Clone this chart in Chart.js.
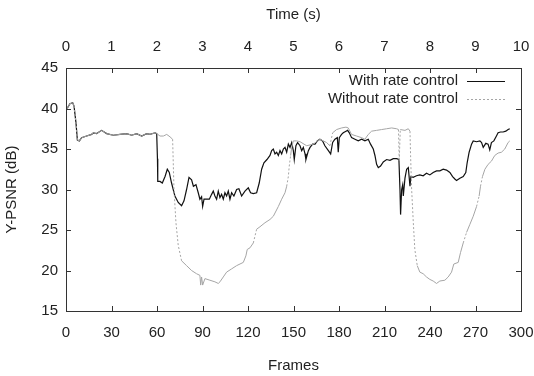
<!DOCTYPE html>
<html>
<head>
<meta charset="utf-8">
<script src="https://cdn.jsdelivr.net/npm/chart.js@4.4.0/dist/chart.umd.min.js"></script>
<style>
  html, body { margin: 0; padding: 0; background: #fff; }
  canvas { display: block; }
</style>
</head>
<body>
<canvas id="psnrChart" width="534" height="376"></canvas>
<script>
// Y-PSNR per frame
const withFrames = [0, 1, 2.6, 4.4, 5.3, 6.6, 7.5, 8.8, 10.3, 13.6, 16.9, 18, 20.2, 23.5, 26.8, 31.2, 35.6, 40, 43.3, 46.6, 49.9, 53.2, 55.4, 58.7, 59.8,
  60.3, 60.5, 62, 63.5, 65.3, 66.8, 68.1, 69.6, 71.8, 74, 76.2, 77.8, 79.5, 81.1, 82.8, 84, 85.7, 87.2, 88.3, 89.4, 90.1, 91, 92.7, 94.5,
  96, 97.1, 98.2, 99.3, 100.4, 101.5, 102.6, 103.7, 104.8, 105.9, 107, 108.1, 109.2, 110.7, 112.5, 114, 115.8, 118, 120.2, 121.7, 123.5,
  125.7, 127.4, 129, 130.5, 132.5, 134.5, 135.6, 136.7, 137.8, 138.9, 140, 141.1, 142.2, 143.3, 144.4, 145.5, 146.6, 147.7, 148.8, 149.9,
  150.5, 151.6, 152.7, 154.3, 155.4, 156.5, 157.6, 158.2, 159.8, 160.9, 162.6, 164.2, 165.7, 167.4, 169.2, 170.7, 173, 174.5, 175.8, 177.3,
  178.9, 179.5, 180.2, 181.7, 182.8, 184.6, 185.7, 186.8, 188.3, 190.5, 192.7, 194.9, 197.1, 199.3, 200.8, 202.6, 203.7, 204.8, 205.9,
  207.4, 209.2, 211.4, 213.6, 215.8, 218, 219.5, 220.2, 220.6, 221.3, 222, 222.4, 223.5, 224.6, 225.7, 226.8, 227.4, 228.9, 231.1, 233.3,
  235.5, 237.7, 239.9, 242.1, 244.3, 246.5, 248.7, 250.9, 253.1, 254.9, 256.4, 257.5, 259.7, 261.9, 263.6, 264.5, 265.8, 267.4, 268.5,
  270.7, 272.9, 274, 275.1, 276.8, 278.3, 279.4, 280.5, 282.1, 283.8, 284.9, 286.5, 288.2, 290, 291.5, 292.6];
const withPsnr = [40.0, 40.1, 40.6, 40.7, 40.3, 38.2, 36.1, 36.0, 36.4, 36.6, 36.8, 37.0, 36.9, 37.3, 36.9, 36.7, 36.8, 36.9, 36.7, 36.9, 36.6, 36.9, 36.8, 37.0, 36.9,
  33.8, 31.0, 31.0, 30.8, 31.6, 32.5, 32.1, 30.8, 29.2, 28.4, 28.0, 28.6, 30.0, 31.5, 31.2, 30.4, 30.6, 29.6, 28.8, 29.1, 27.9, 28.8, 28.8, 28.8,
  29.4, 29.8, 29.2, 28.8, 29.8, 29.0, 29.4, 28.8, 29.6, 29.2, 29.8, 28.8, 29.6, 29.2, 30.0, 30.1, 29.2, 29.8, 30.2, 29.6, 29.5,
  29.6, 30.8, 32.5, 33.3, 33.7, 34.2, 34.8, 35.0, 34.4, 34.6, 34.2, 34.8, 34.4, 35.0, 35.2, 34.6, 35.6, 35.2, 35.8, 34.8,
  33.7, 35.4, 35.8, 35.4, 34.8, 35.2, 34.4, 33.7, 34.8, 35.2, 35.6, 35.6, 36.0, 36.2, 36.0, 35.4, 34.8, 34.4, 35.8, 36.2,
  36.4, 34.6, 36.4, 36.8, 37.0, 37.2, 37.3, 37.0, 36.4, 36.2, 36.0, 36.2, 36.0, 36.2, 35.6, 35.0, 34.2, 33.1, 32.7,
  32.9, 33.4, 33.7, 33.6, 33.8, 33.8, 33.7, 30.0, 26.9, 30.0, 30.6, 29.2, 31.4, 32.5, 32.7, 30.4, 31.6, 31.5, 31.7, 31.8,
  31.7, 32.0, 31.8, 32.1, 32.3, 32.3, 32.5, 32.4, 32.1, 31.6, 31.3, 31.1, 31.4, 31.6, 32.1, 33.3, 34.6, 35.6, 36.0,
  35.9, 36.0, 35.8, 35.2, 35.7, 35.6, 34.9, 35.8, 36.0, 36.6, 37.0, 37.1, 37.1, 37.2, 37.4, 37.5];

const withoutFrames = [0, 1, 2.6, 4.4, 5.3, 6.6, 7.5, 8.8, 10.3, 13.6, 16.9, 18, 20.2, 23.5, 26.8, 31.2, 35.6, 40, 43.3, 46.6, 49.9, 53.2, 55.4, 58.7, 59.8,
  62, 64.2, 66.4, 68.6, 70.3, 71.2, 72.5, 74, 76.2, 79.5, 82.8, 86.1, 88.3, 88.8, 89.4, 90.1, 91.6, 94.9, 98.2, 100.4, 101.5, 103.7,
  105.9, 109.2, 112.5, 116.9, 118.6, 119.5, 121.3, 123.5, 125.7, 127.9, 131.2, 134.5, 136.7, 140, 142.2, 144.4, 145.5, 146.6, 147.2,
  148.1, 148.8, 149.9, 152.1, 154.3, 158.7, 163, 167.4, 171.8, 174, 175.8, 178.4, 181.7, 184.6, 186.1, 188.3, 191.6, 194.9, 197.1,
  199.3, 201.5, 204.8, 208.1, 211.4, 214.7, 218, 219.2, 219.7, 220.4, 223.5, 225.7, 226.8, 227.2, 227.9, 229, 230, 231.6, 233.3,
  235.5, 237.7, 239.9, 242.1, 244.3, 246.5, 249.8, 252, 254.2, 255.7, 258.6, 260.1, 261.9, 264.1, 266.3, 268.5, 270.7, 272.4, 273.3,
  274.6, 276.2, 278.3, 280.5, 282.7, 284.9, 287.1, 289.3, 291.5, 292.6];
const withoutPsnr = [40.0, 40.1, 40.6, 40.7, 40.3, 38.2, 36.1, 36.0, 36.4, 36.6, 36.8, 37.0, 36.9, 37.3, 36.9, 36.7, 36.8, 36.9, 36.7, 36.9, 36.6, 36.9, 36.8, 37.0, 36.9,
  36.6, 36.6, 36.8, 36.5, 36.2, 30.0, 25.9, 23.1, 21.2, 20.6, 20.0, 19.6, 19.4, 18.2, 19.2, 18.2, 19.0, 18.8, 18.6, 18.4, 18.6, 19.2,
  19.8, 20.2, 20.6, 21.0, 21.8, 22.6, 22.8, 23.4, 25.1, 25.4, 25.9, 26.3, 26.7, 27.9, 28.8, 29.6, 30.4, 31.6, 32.9,
  34.2, 35.2, 36.0, 36.0, 35.9, 35.4, 35.6, 36.2, 35.8, 35.4, 37.0, 37.4, 37.6, 37.7, 37.6, 36.8, 36.6, 36.4, 36.2,
  36.8, 37.2, 37.3, 37.4, 37.5, 37.6, 37.5, 37.4, 33.5, 37.4, 37.3, 37.5, 37.2, 34.2, 30.0, 25.9, 22.6, 20.6, 19.8,
  19.6, 19.2, 18.9, 18.7, 18.4, 18.7, 18.8, 19.2, 19.8, 20.8, 21.0, 22.2, 23.4, 24.7, 25.7, 26.7, 27.9, 29.2, 30.4,
  31.6, 32.5, 33.1, 33.5, 34.2, 34.5, 34.6, 35.0, 35.8, 36.0];

const frameTicks = [0, 30, 60, 90, 120, 150, 180, 210, 240, 270, 300];
const timeTicks = [0, 1, 2, 3, 4, 5, 6, 7, 8, 9, 10];
const psnrTicks = [15, 20, 25, 30, 35, 40, 45];

const FONT = { family: '"Liberation Sans", Arial, sans-serif', size: 15 };
const TEXT = '#222';

const toPoints = (xs, ys) => xs.map((x, i) => ({ x, y: ys[i] }));

// gnuplot-style box with inward ticks
const frameBox = {
  id: 'frameBox',
  afterDatasetsDraw(chart) {
    const { ctx, chartArea: a, scales } = chart;
    const tl = 5;
    ctx.save();
    ctx.strokeStyle = '#333';
    ctx.lineWidth = 1;
    ctx.beginPath();
    frameTicks.forEach(v => {
      const x = Math.round(scales.x.getPixelForValue(v)) + 0.5;
      ctx.moveTo(x, a.bottom); ctx.lineTo(x, a.bottom - tl);
    });
    timeTicks.forEach(v => {
      const x = Math.round(scales.x2.getPixelForValue(v)) + 0.5;
      ctx.moveTo(x, a.top); ctx.lineTo(x, a.top + tl);
    });
    psnrTicks.forEach(v => {
      const y = Math.round(scales.y.getPixelForValue(v)) + 0.5;
      ctx.moveTo(a.left, y); ctx.lineTo(a.left + tl, y);
      ctx.moveTo(a.right, y); ctx.lineTo(a.right - tl, y);
    });
    ctx.stroke();
    ctx.strokeRect(Math.round(a.left) + 0.5, Math.round(a.top) + 0.5,
                   Math.round(a.right - a.left), Math.round(a.bottom - a.top));
    ctx.restore();
  }
};

// legend inside the box: text on the left, line sample on the right
const keyBox = {
  id: 'keyBox',
  afterDraw(chart) {
    const { ctx, chartArea: a } = chart;
    const textRight = a.right - 63;
    const x1 = a.right - 54, x2 = a.right - 16;
    ctx.save();
    ctx.font = `${FONT.size}px ${FONT.family}`;
    ctx.textAlign = 'right';
    ctx.textBaseline = 'middle';
    chart.data.datasets.forEach((ds, i) => {
      const y = a.top + 13 + i * 18;
      ctx.fillStyle = TEXT;
      ctx.fillText(ds.label, textRight, y);
      ctx.strokeStyle = ds.borderColor;
      ctx.lineWidth = ds.borderWidth;
      ctx.setLineDash(ds.keyDash);
      ctx.beginPath();
      ctx.moveTo(x1, y + 0.5); ctx.lineTo(x2, y + 0.5);
      ctx.stroke();
    });
    ctx.restore();
  }
};

const noSidePad = s => { s.paddingLeft = 0; s.paddingRight = 0; };

new Chart(document.getElementById('psnrChart').getContext('2d'), {
  type: 'line',
  data: {
    datasets: [{
      label: 'With rate control',
      data: toPoints(withFrames, withPsnr),
      borderColor: '#111',
      borderWidth: 1.2,
      keyDash: [],
      pointRadius: 0,
      tension: 0,
      order: 1
    }, {
      label: 'Without rate control',
      data: toPoints(withoutFrames, withoutPsnr),
      borderColor: '#a5a5a5',
      borderWidth: 1,
      keyDash: [2, 2],
      pointRadius: 0,
      tension: 0,
      order: 0,
      segment: {
        borderDash: c => Math.abs(c.p1.parsed.y - c.p0.parsed.y) > 1.2 ? [2, 2] : []
      }
    }]
  },
  options: {
    responsive: false,
    animation: false,
    devicePixelRatio: 1,
    layout: { padding: { right: 13 } },
    plugins: { legend: { display: false }, tooltip: { enabled: false } },
    scales: {
      x: {
        type: 'linear', position: 'bottom', min: 0, max: 300,
        afterBuildTicks: s => { s.ticks = frameTicks.map(v => ({ value: v })); },
        afterFit: s => { s.height = 65; noSidePad(s); },
        grid: { display: false, drawTicks: false },
        border: { display: false },
        ticks: { font: FONT, color: TEXT, padding: 13, maxRotation: 0 },
        title: { display: true, text: 'Frames', font: FONT, color: TEXT, padding: { top: 0, bottom: 1 } }
      },
      x2: {
        type: 'linear', position: 'top', min: 0, max: 10,
        afterBuildTicks: s => { s.ticks = timeTicks.map(v => ({ value: v })); },
        afterFit: s => { s.height = 68; noSidePad(s); },
        grid: { display: false, drawTicks: false },
        border: { display: false },
        ticks: { font: FONT, color: TEXT, padding: 12, maxRotation: 0 },
        title: { display: true, text: 'Time (s)', font: FONT, color: TEXT, padding: { top: 6, bottom: 0 } }
      },
      y: {
        type: 'linear', min: 15, max: 45,
        afterBuildTicks: s => { s.ticks = psnrTicks.map(v => ({ value: v })); },
        afterFit: s => { s.width = 66; s.paddingTop = 0; s.paddingBottom = 0; },
        grid: { display: false, drawTicks: false },
        border: { display: false },
        ticks: { font: FONT, color: TEXT, padding: 8 },
        title: { display: true, text: 'Y-PSNR (dB)', font: FONT, color: TEXT, padding: { top: 3, bottom: 0 } }
      }
    }
  },
  plugins: [frameBox, keyBox]
});
</script>
</body>
</html>
